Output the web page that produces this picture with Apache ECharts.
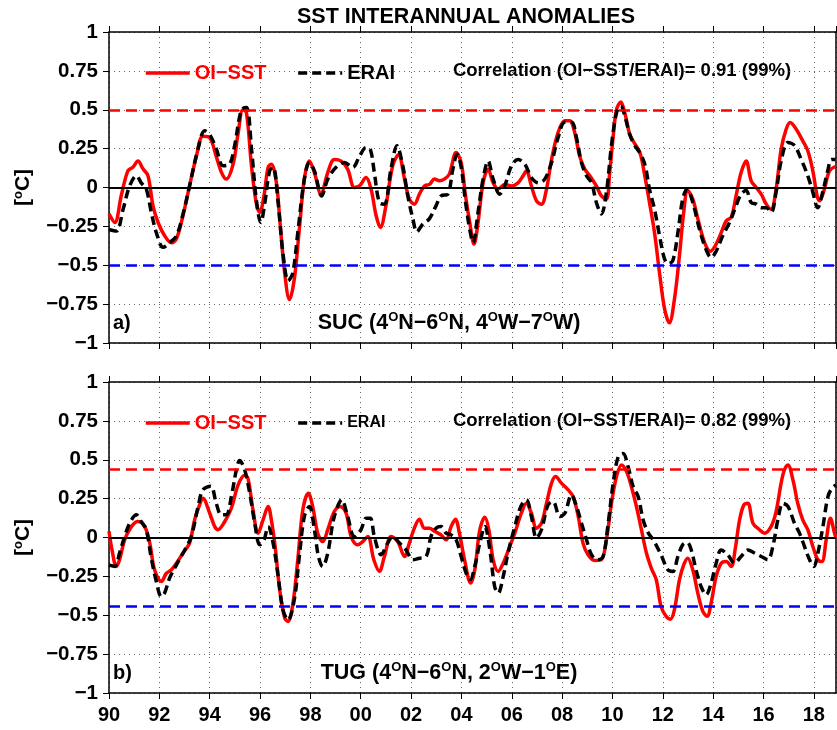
<!DOCTYPE html>
<html>
<head>
<meta charset="utf-8">
<script src="https://cdn.jsdelivr.net/npm/echarts@6/dist/echarts.min.js"></script>
<style>
  html, body { margin: 0; padding: 0; background: #fff; }
  #chart { width: 837px; height: 730px; }
</style>
</head>
<body>
<div id="chart"></div>
<script>
// SST interannual anomalies, [year, °C]
const sucOisst = [[1990.0,-0.17],[1990.23,-0.225],[1990.49,-0.05],[1990.75,0.107],[1990.95,0.13],[1991.15,0.17],[1991.35,0.12],[1991.55,0.075],[1991.75,-0.12],[1991.95,-0.225],[1992.21,-0.31],[1992.48,-0.355],[1992.68,-0.33],[1992.94,-0.18],[1993.2,0.01],[1993.47,0.2],[1993.73,0.33],[1994.0,0.32],[1994.26,0.2],[1994.46,0.1],[1994.66,0.054],[1994.93,0.15],[1995.13,0.35],[1995.32,0.5],[1995.46,0.48],[1995.66,0.14],[1995.85,-0.1],[1995.99,-0.16],[1996.16,-0.05],[1996.32,0.13],[1996.45,0.15],[1996.65,0.03],[1996.78,-0.2],[1996.98,-0.55],[1997.17,-0.72],[1997.36,-0.59],[1997.56,-0.27],[1997.76,0.054],[1997.96,0.17],[1998.16,0.096],[1998.42,-0.043],[1998.69,0.096],[1998.95,0.18],[1999.22,0.17],[1999.48,0.118],[1999.75,0.0],[1999.95,0.01],[2000.21,0.064],[2000.41,-0.01],[2000.61,-0.18],[2000.78,-0.257],[2001.0,-0.118],[2001.27,0.14],[2001.5,0.21],[2001.74,0.054],[2001.93,-0.075],[2002.13,-0.107],[2002.33,-0.043],[2002.53,0.01],[2002.73,0.02],[2002.93,0.054],[2003.13,0.043],[2003.32,0.054],[2003.52,0.086],[2003.79,0.225],[2003.99,0.16],[2004.16,-0.05],[2004.33,-0.225],[2004.5,-0.364],[2004.66,-0.225],[2004.86,0.03],[2005.06,0.118],[2005.26,0.03],[2005.46,-0.01],[2005.72,0.02],[2005.99,0.01],[2006.25,0.03],[2006.45,0.075],[2006.58,0.107],[2006.78,0.01],[2006.98,-0.086],[2007.18,-0.107],[2007.38,-0.01],[2007.58,0.18],[2007.84,0.354],[2008.11,0.43],[2008.3,0.43],[2008.5,0.354],[2008.7,0.2],[2008.9,0.118],[2009.1,0.075],[2009.36,0.01],[2009.56,-0.054],[2009.76,-0.075],[2009.89,0.096],[2010.03,0.33],[2010.16,0.5],[2010.33,0.55],[2010.49,0.48],[2010.69,0.34],[2010.89,0.28],[2011.09,0.225],[2011.28,0.08],[2011.47,-0.096],[2011.67,-0.29],[2011.87,-0.55],[2012.07,-0.78],[2012.26,-0.87],[2012.46,-0.72],[2012.66,-0.44],[2012.83,-0.16],[2012.99,-0.02],[2013.19,-0.075],[2013.39,-0.2],[2013.66,-0.354],[2013.89,-0.41],[2014.12,-0.364],[2014.32,-0.29],[2014.52,-0.214],[2014.72,-0.19],[2014.91,-0.054],[2015.11,0.096],[2015.31,0.17],[2015.51,0.043],[2015.71,0.0],[2015.91,-0.043],[2016.11,-0.107],[2016.3,-0.14],[2016.5,-0.01],[2016.7,0.246],[2016.9,0.375],[2017.06,0.418],[2017.3,0.375],[2017.56,0.3],[2017.76,0.236],[2017.96,0.107],[2018.13,-0.054],[2018.23,-0.086],[2018.42,-0.01],[2018.62,0.107],[2018.86,0.135]];

const sucErai = [[1990.0,-0.27],[1990.29,-0.28],[1990.56,-0.14],[1990.82,0.01],[1991.09,0.075],[1991.28,0.03],[1991.48,-0.01],[1991.68,-0.16],[1991.88,-0.29],[1992.15,-0.385],[1992.41,-0.355],[1992.68,-0.31],[1992.94,-0.17],[1993.2,0.01],[1993.54,0.25],[1993.8,0.365],[1994.0,0.34],[1994.26,0.25],[1994.53,0.14],[1994.79,0.15],[1994.99,0.27],[1995.26,0.5],[1995.46,0.515],[1995.66,0.25],[1995.85,-0.075],[1996.03,-0.225],[1996.19,-0.1],[1996.38,0.107],[1996.52,0.13],[1996.72,-0.1],[1996.91,-0.42],[1997.12,-0.6],[1997.3,-0.55],[1997.5,-0.29],[1997.76,0.054],[1997.96,0.16],[1998.16,0.107],[1998.45,-0.054],[1998.69,0.054],[1999.02,0.13],[1999.35,0.16],[1999.68,0.13],[1999.95,0.2],[2000.21,0.257],[2000.38,0.246],[2000.54,0.096],[2000.74,-0.096],[2000.94,-0.107],[2001.2,0.118],[2001.44,0.268],[2001.67,0.14],[2001.87,-0.054],[2002.07,-0.2],[2002.23,-0.285],[2002.46,-0.236],[2002.73,-0.2],[2002.99,-0.118],[2003.19,-0.054],[2003.46,-0.043],[2003.66,0.118],[2003.83,0.214],[2003.99,0.13],[2004.16,-0.09],[2004.33,-0.27],[2004.46,-0.354],[2004.66,-0.16],[2004.86,0.054],[2005.06,0.17],[2005.26,0.054],[2005.52,-0.043],[2005.72,0.01],[2005.99,0.14],[2006.25,0.18],[2006.52,0.15],[2006.78,0.064],[2007.05,0.03],[2007.31,0.054],[2007.58,0.16],[2007.84,0.32],[2008.11,0.42],[2008.38,0.42],[2008.57,0.32],[2008.77,0.16],[2008.97,0.075],[2009.17,0.03],[2009.36,-0.096],[2009.56,-0.17],[2009.76,-0.03],[2009.96,0.27],[2010.16,0.48],[2010.33,0.525],[2010.49,0.46],[2010.69,0.34],[2010.89,0.27],[2011.12,0.214],[2011.3,0.14],[2011.47,-0.01],[2011.67,-0.14],[2011.87,-0.31],[2012.07,-0.46],[2012.23,-0.49],[2012.4,-0.47],[2012.6,-0.29],[2012.79,-0.075],[2012.97,-0.01],[2013.19,-0.096],[2013.46,-0.27],[2013.72,-0.4],[2013.92,-0.45],[2014.12,-0.41],[2014.38,-0.31],[2014.65,-0.225],[2014.91,-0.118],[2015.11,-0.043],[2015.31,-0.02],[2015.51,-0.096],[2015.71,-0.107],[2015.91,-0.13],[2016.11,-0.13],[2016.3,-0.16],[2016.5,-0.03],[2016.7,0.17],[2016.97,0.29],[2017.23,0.27],[2017.5,0.18],[2017.76,0.075],[2017.96,-0.03],[2018.15,-0.13],[2018.35,-0.03],[2018.55,0.107],[2018.7,0.18],[2018.86,0.18]];

const tugOisst = [[1990.0,0.04],[1990.12,-0.08],[1990.29,-0.186],[1990.42,-0.143],[1990.62,-0.015],[1990.89,0.07],[1991.15,0.103],[1991.42,0.07],[1991.62,-0.036],[1991.81,-0.208],[1992.08,-0.283],[1992.28,-0.23],[1992.48,-0.208],[1992.68,-0.165],[1992.94,-0.1],[1993.2,-0.036],[1993.4,0.113],[1993.6,0.21],[1993.73,0.253],[1994.0,0.156],[1994.2,0.07],[1994.33,0.05],[1994.6,0.103],[1994.86,0.188],[1995.13,0.338],[1995.39,0.4],[1995.52,0.38],[1995.72,0.178],[1995.92,0.028],[1996.12,0.113],[1996.32,0.2],[1996.45,0.113],[1996.6,-0.058],[1996.78,-0.336],[1996.98,-0.518],[1997.11,-0.54],[1997.31,-0.42],[1997.5,-0.143],[1997.7,0.178],[1997.92,0.285],[1998.09,0.2],[1998.29,0.028],[1998.49,-0.026],[1998.69,0.05],[1998.95,0.167],[1999.19,0.2],[1999.42,0.156],[1999.62,0.006],[1999.88,-0.047],[2000.08,-0.026],[2000.28,0.006],[2000.52,-0.143],[2000.74,-0.218],[2000.94,-0.122],[2001.21,0.006],[2001.47,-0.026],[2001.74,-0.122],[2001.93,-0.036],[2002.13,0.06],[2002.33,0.118],[2002.53,0.06],[2002.73,0.06],[2002.93,0.04],[2003.19,0.017],[2003.39,-0.015],[2003.59,0.07],[2003.76,0.118],[2003.92,0.028],[2004.12,-0.14],[2004.37,-0.293],[2004.53,-0.208],[2004.73,0.05],[2004.93,0.13],[2005.09,0.05],[2005.26,-0.143],[2005.46,-0.218],[2005.66,-0.165],[2005.92,-0.058],[2006.12,0.028],[2006.38,0.156],[2006.58,0.22],[2006.78,0.156],[2006.98,0.06],[2007.18,0.092],[2007.38,0.22],[2007.58,0.35],[2007.74,0.392],[2007.97,0.35],[2008.24,0.306],[2008.44,0.263],[2008.64,0.135],[2008.83,-0.036],[2009.03,-0.111],[2009.3,-0.148],[2009.56,-0.143],[2009.76,-0.015],[2009.96,0.22],[2010.16,0.392],[2010.36,0.467],[2010.56,0.424],[2010.75,0.328],[2010.95,0.2],[2011.15,0.05],[2011.35,-0.1],[2011.55,-0.2],[2011.74,-0.272],[2011.93,-0.443],[2012.13,-0.507],[2012.3,-0.525],[2012.46,-0.465],[2012.66,-0.272],[2012.83,-0.176],[2012.99,-0.133],[2013.19,-0.208],[2013.39,-0.358],[2013.59,-0.475],[2013.76,-0.507],[2013.92,-0.42],[2014.12,-0.25],[2014.32,-0.165],[2014.52,-0.154],[2014.72,-0.186],[2014.87,-0.08],[2015.05,0.113],[2015.22,0.21],[2015.38,0.22],[2015.58,0.092],[2015.84,0.05],[2016.04,0.028],[2016.3,0.07],[2016.5,0.167],[2016.7,0.35],[2016.83,0.435],[2016.97,0.467],[2017.17,0.37],[2017.36,0.22],[2017.56,0.113],[2017.76,0.05],[2017.96,-0.058],[2018.16,-0.143],[2018.32,-0.154],[2018.49,-0.015],[2018.66,0.124],[2018.82,0.028],[2018.88,-0.004]];

const tugErai = [[1990.0,-0.176],[1990.23,-0.186],[1990.42,-0.1],[1990.62,0.006],[1990.82,0.092],[1991.09,0.146],[1991.28,0.103],[1991.48,0.05],[1991.68,-0.133],[1991.88,-0.283],[1992.08,-0.38],[1992.21,-0.357],[1992.41,-0.26],[1992.68,-0.176],[1993.01,-0.08],[1993.27,0.006],[1993.54,0.2],[1993.73,0.306],[1994.04,0.33],[1994.26,0.22],[1994.46,0.146],[1994.66,0.146],[1994.86,0.263],[1995.06,0.435],[1995.19,0.495],[1995.39,0.435],[1995.59,0.285],[1995.79,0.092],[1995.99,-0.047],[1996.16,-0.015],[1996.32,0.07],[1996.52,-0.036],[1996.72,-0.25],[1996.91,-0.465],[1997.11,-0.53],[1997.36,-0.4],[1997.56,-0.122],[1997.76,0.135],[1997.96,0.2],[1998.16,0.05],[1998.32,-0.122],[1998.49,-0.186],[1998.69,-0.1],[1998.95,0.135],[1999.25,0.242],[1999.48,0.135],[1999.75,0.006],[2000.01,0.05],[2000.21,0.124],[2000.38,0.124],[2000.54,0.006],[2000.81,-0.111],[2001.07,-0.036],[2001.27,0.006],[2001.54,-0.036],[2001.8,-0.08],[2002.07,-0.143],[2002.33,-0.133],[2002.6,-0.122],[2002.79,0.006],[2002.99,0.06],[2003.19,0.07],[2003.39,0.028],[2003.59,0.017],[2003.79,-0.015],[2003.99,-0.122],[2004.19,-0.23],[2004.35,-0.27],[2004.53,-0.186],[2004.73,-0.036],[2004.93,0.07],[2005.13,-0.08],[2005.32,-0.315],[2005.46,-0.358],[2005.66,-0.25],[2005.85,-0.1],[2006.12,0.07],[2006.36,0.2],[2006.58,0.242],[2006.78,0.135],[2006.98,-0.004],[2007.18,0.05],[2007.44,0.21],[2007.64,0.23],[2007.91,0.135],[2008.11,0.156],[2008.37,0.274],[2008.57,0.2],[2008.77,0.092],[2008.97,-0.015],[2009.17,-0.111],[2009.43,-0.143],[2009.63,-0.122],[2009.83,0.092],[2010.03,0.35],[2010.23,0.52],[2010.42,0.54],[2010.62,0.456],[2010.82,0.328],[2011.02,0.263],[2011.22,0.113],[2011.42,0.03],[2011.62,-0.015],[2011.93,-0.111],[2012.2,-0.208],[2012.4,-0.218],[2012.6,-0.122],[2012.79,-0.047],[2012.97,-0.032],[2013.13,-0.08],[2013.32,-0.208],[2013.52,-0.315],[2013.72,-0.368],[2013.92,-0.293],[2014.12,-0.165],[2014.32,-0.08],[2014.58,-0.111],[2014.85,-0.165],[2015.11,-0.122],[2015.38,-0.08],[2015.64,-0.1],[2015.91,-0.122],[2016.17,-0.143],[2016.37,-0.058],[2016.57,0.113],[2016.77,0.22],[2016.97,0.2],[2017.23,0.092],[2017.43,0.028],[2017.63,-0.058],[2017.83,-0.143],[2018.0,-0.186],[2018.16,-0.1],[2018.36,0.07],[2018.56,0.263],[2018.72,0.317],[2018.88,0.338]];

// Threshold levels (±1 standard deviation) per region
const sucThreshold = 0.5;
const tugThreshold = 0.44;

const panelTitles = ['SUC (4{s|O}N\u22126{s|O}N, 4{s|O}W\u22127{s|O}W)', 'TUG (4{s|O}N\u22126{s|O}N, 2{s|O}W\u22121{s|O}E)'];
const correlations = ['Correlation (OI\u2212SST/ERAI)= 0.91 (99%)', 'Correlation (OI\u2212SST/ERAI)= 0.82 (99%)'];
const panelTags = ['a)', 'b)'];

const X_MIN = 1990, X_MAX = 2018.88;
const FONT = '"Liberation Sans", Arial, Helvetica, sans-serif';
const RED = '#ff0000', BLUE = '#0000ff';
const OI_NAME = 'OI\u2212SST', ERA_NAME = 'ERAI';

const chart = echarts.init(document.getElementById('chart'), null, { renderer: 'canvas' });

const gridTops = [32, 382];
const grids = gridTops.map(t => ({ left: 109, top: t, width: 727, height: 311, containLabel: false }));

const dotted = { show: true, lineStyle: { color: '#666', width: 1, type: [1, 4] } };

function yLabel(v) {
  if (Math.abs(v) < 1e-9) return '0';
  return (v < 0 ? '\u2212' : '') + String(Math.abs(v));
}
function xLabel(v) {
  if (Math.abs(v - Math.round(v)) > 1e-6) return '';
  return String(Math.round(v) % 100).padStart(2, '0');
}

const xAxes = [], yAxes = [];
[0, 1].forEach(i => {
  xAxes.push({
    type: 'value', gridIndex: i, position: 'bottom', min: X_MIN, max: X_MAX, interval: 2,
    axisLine: { show: true, onZero: false, lineStyle: { color: '#000', width: 1.5 } },
    axisTick: { show: true, inside: false, length: 6, lineStyle: { color: '#000', width: 1 } },
    axisLabel: { show: i === 1, formatter: xLabel, showMaxLabel: false, margin: 12,
      color: '#000', fontFamily: FONT, fontWeight: 'bold', fontSize: 20 },
    splitLine: dotted
  });
  xAxes.push({
    type: 'value', gridIndex: i, position: 'top', min: X_MIN, max: X_MAX, interval: 2,
    axisLine: { show: true, onZero: false, lineStyle: { color: '#000', width: 1.5 } },
    axisTick: { show: true, inside: false, length: 6, lineStyle: { color: '#000', width: 1 } },
    axisLabel: { show: false }, splitLine: { show: false }
  });
  yAxes.push({
    type: 'value', gridIndex: i, position: 'left', min: -1, max: 1, interval: 0.25,
    axisLine: { show: true, onZero: false, lineStyle: { color: '#000', width: 1.5 } },
    axisTick: { show: true, inside: false, length: 6, lineStyle: { color: '#000', width: 1 } },
    axisLabel: { formatter: yLabel, margin: 11, color: '#000', fontFamily: FONT, fontWeight: 'bold', fontSize: 20.5 },
    splitLine: dotted,
    name: '{b|[}{s|o}{b|C]}', nameLocation: 'middle', nameRotate: 90, nameGap: 74,
    nameTextStyle: { rich: {
      b: { fontFamily: FONT, fontWeight: 'bold', fontSize: 21, color: '#000' },
      s: { fontFamily: FONT, fontWeight: 'bold', fontSize: 13, color: '#000', padding: [0, 0, 10, 0] }
    } }
  });
  yAxes.push({
    type: 'value', gridIndex: i, position: 'right', min: -1, max: 1, interval: 0.25,
    axisLine: { show: true, onZero: false, lineStyle: { color: '#000', width: 1.5 } },
    axisTick: { show: false }, axisLabel: { show: false }, splitLine: { show: false }
  });
});

function refLines(th) {
  return {
    silent: true, symbol: 'none', label: { show: false },
    data: [
      { yAxis: th, lineStyle: { color: RED, width: 2.5, type: [11, 6] } },
      { yAxis: -th, lineStyle: { color: BLUE, width: 2.5, type: [11, 6] } },
      { yAxis: 0, lineStyle: { color: '#000', width: 2, type: 'solid' } }
    ]
  };
}

const panels = [[sucOisst, sucErai, sucThreshold], [tugOisst, tugErai, tugThreshold]];
const series = [];
panels.forEach(([oi, era, th], i) => {
  series.push({
    name: ERA_NAME, type: 'line', xAxisIndex: 2 * i, yAxisIndex: 2 * i, data: era,
    smooth: 0.35, symbol: 'none', lineStyle: { color: '#000', width: 3.5, type: [9, 5] },
    itemStyle: { color: '#000' }, z: 3, animation: false
  });
  series.push({
    name: OI_NAME, type: 'line', xAxisIndex: 2 * i, yAxisIndex: 2 * i, data: oi,
    smooth: 0.35, symbol: 'none', lineStyle: { color: RED, width: 3.5, type: 'solid' },
    itemStyle: { color: RED }, z: 2, animation: false, markLine: refLines(th)
  });
});

// Legends: line samples only, no point symbol
const legends = gridTops.map((t, i) => ({
  left: 139, top: t + 26, orient: 'horizontal', itemWidth: 44, itemHeight: 14, itemGap: 30,
  selectedMode: false,
  itemStyle: { opacity: 0 },
  lineStyle: { width: 3.5 },
  data: [
    { name: OI_NAME, textStyle: { color: RED, fontSize: 20 } },
    { name: ERA_NAME, textStyle: { color: '#000', fontSize: i === 0 ? 20 : 16 } }
  ],
  textStyle: { fontFamily: FONT, fontWeight: 'bold' }
}));

const graphics = [
  { type: 'text', x: 466, y: 17, style: { text: 'SST INTERANNUAL ANOMALIES', align: 'center', verticalAlign: 'middle',
    fontFamily: FONT, fontWeight: 'bold', fontSize: 21.5, fill: '#000' } }
];
gridTops.forEach((t, i) => {
  graphics.push({ type: 'text', x: 622, y: t + 39, style: { text: correlations[i], align: 'center', verticalAlign: 'middle',
    fontFamily: FONT, fontWeight: 'bold', fontSize: 18.5, fill: '#000' } });
  graphics.push({ type: 'text', x: 113, y: t + 291, style: { text: panelTags[i], align: 'left', verticalAlign: 'middle',
    fontFamily: FONT, fontWeight: 'bold', fontSize: 20, fill: '#000' } });
  graphics.push({ type: 'text', x: 449, y: t + 291, style: { text: panelTitles[i], align: 'center', verticalAlign: 'middle',
    fontFamily: FONT, fontWeight: 'bold', fontSize: 21.5, fill: '#000',
    rich: { s: { fontFamily: FONT, fontWeight: 'bold', fontSize: 13, fill: '#000', padding: [0, 0, 11, 0] } } } });
});

chart.setOption({
  backgroundColor: '#fff',
  animation: false,
  grid: grids,
  xAxis: xAxes,
  yAxis: yAxes,
  legend: legends,
  series: series,
  graphic: graphics
});
</script>
</body>
</html>
